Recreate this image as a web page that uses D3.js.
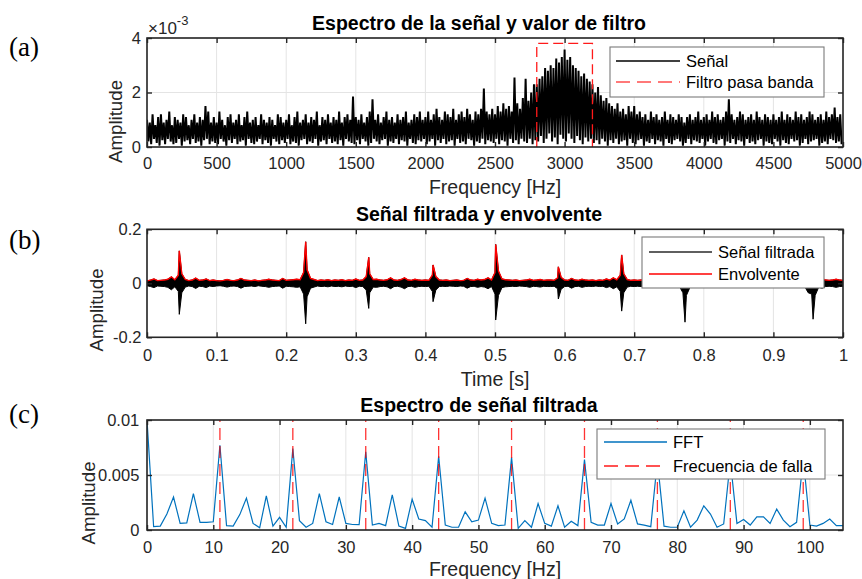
<!DOCTYPE html>
<html><head><meta charset="utf-8">
<script src="https://cdn.jsdelivr.net/npm/d3@7"></script>
<style>body{margin:0;background:#fff}svg{display:block}</style>
</head><body><svg id="chart" width="862" height="579"></svg>
<script>
// ---------- DATA ----------
// (a) spectrum, amplitude in units of 1e-3, one peak/trough pair per 20 Hz bin
const specBinHz = 20;
const specUpper = [
1.0,0.9,1.2,0.8,1.1,1.2,0.9,1.0,1.3,0.8,1.1,1.0,0.9,1.2,1.1,0.8,1.0,1.2,0.9,1.1,1.0,1.5,1.3,0.9,1.1,
0.9,1.3,1.0,0.8,1.1,1.2,0.9,1.0,1.2,0.8,1.1,1.3,0.9,1.0,1.1,0.8,1.2,1.0,0.9,1.1,1.0,0.8,1.2,1.1,0.9,
1.0,1.2,0.8,1.1,1.3,0.9,1.0,1.2,0.9,1.1,1.0,1.3,0.8,1.1,1.0,1.2,0.9,1.1,1.0,1.3,0.9,1.1,1.2,1.0,1.85,
1.1,1.0,1.2,0.9,1.1,1.3,1.75,1.0,1.2,0.9,1.1,1.3,1.0,1.1,0.9,1.2,1.0,1.1,1.3,0.9,1.0,1.2,1.1,1.3,1.0,
1.1,1.3,1.0,1.2,1.4,1.1,1.0,1.3,1.2,1.1,1.4,1.0,1.2,1.3,1.1,1.4,1.2,1.0,1.3,1.2,1.4,2.15,1.3,1.2,1.4,
1.2,1.5,1.3,1.6,1.4,1.5,1.3,2.55,1.6,1.4,1.8,2.5,1.7,2.0,2.3,
2.3,2.5,2.6,2.9,2.8,3.0,2.9,3.25,3.1,3.3,3.58,3.2,3.3,3.0,2.9,2.8,2.6,2.7,2.5,2.4,
2.3,2.0,2.2,1.9,1.7,1.8,1.6,1.5,1.4,1.6,1.3,1.4,1.2,1.5,1.3,
1.5,1.2,1.3,1.1,1.2,1.0,1.3,1.1,1.2,1.0,1.1,1.3,1.0,1.2,1.1,1.0,1.2,1.1,0.9,1.1,1.2,1.0,1.1,1.3,1.0,
1.1,1.2,1.0,1.3,1.1,1.2,1.0,1.1,1.3,1.75,1.2,1.0,1.1,1.3,1.2,1.0,1.1,1.2,1.0,1.3,1.1,1.0,1.2,1.1,1.0,
1.2,1.0,1.1,1.3,1.0,1.2,1.1,1.0,1.3,1.1,1.2,1.0,1.1,1.3,1.2,1.0,1.1,1.2,1.0,1.3,1.1,1.2,1.45,1.1,1.2];
const specLower = [
0.2,0.1,0.3,0.15,0.05,0.25,0.1,0.3,0.2,0.1,0.15,0.3,0.05,0.2,0.25,0.1,0.3,0.15,0.2,0.05,0.25,0.3,0.1,0.2,0.15,
0.1,0.3,0.2,0.05,0.25,0.15,0.3,0.1,0.2,0.25,0.05,0.3,0.15,0.1,0.2,0.3,0.1,0.25,0.15,0.05,0.3,0.2,0.1,0.25,0.15,
0.3,0.1,0.2,0.15,0.05,0.25,0.3,0.1,0.2,0.15,0.3,0.05,0.2,0.25,0.1,0.3,0.15,0.2,0.1,0.25,0.05,0.3,0.2,0.15,0.1,
0.25,0.1,0.3,0.2,0.05,0.15,0.3,0.2,0.1,0.25,0.3,0.05,0.2,0.15,0.3,0.1,0.25,0.2,0.05,0.3,0.15,0.1,0.25,0.2,0.3,
0.1,0.2,0.3,0.05,0.25,0.15,0.3,0.1,0.2,0.25,0.05,0.3,0.15,0.2,0.1,0.3,0.25,0.05,0.2,0.15,0.3,0.1,0.25,0.2,0.15,
0.3,0.1,0.25,0.2,0.05,0.3,0.15,0.25,0.1,0.3,0.2,0.15,0.3,0.1,0.25,0.2,0.4,0.15,0.3,0.5,0.2,0.35,0.1,0.45,0.3,
0.2,0.5,0.3,0.15,0.4,0.25,0.1,0.35,0.2,0.3,0.15,0.25,0.1,0.3,0.2,0.05,0.25,0.15,0.3,0.1,0.2,0.25,0.05,0.3,0.15,
0.1,0.25,0.3,0.05,0.2,0.15,0.3,0.1,0.25,0.2,0.05,0.3,0.15,0.1,0.25,0.3,0.2,0.05,0.15,0.3,0.1,0.25,0.2,0.15,0.3,
0.05,0.2,0.3,0.15,0.1,0.25,0.3,0.05,0.2,0.15,0.3,0.1,0.25,0.2,0.05,0.3,0.15,0.2,0.1,0.25,0.3,0.05,0.2,0.15,0.1,
0.3,0.2,0.05,0.25,0.15,0.1,0.3,0.2,0.25,0.05,0.15,0.3,0.1,0.2,0.25,0.3,0.05,0.15,0.2,0.1,0.3,0.25,0.15,0.2,0.1];
const filterHz = [2800, 2800, 3200, 3200];
const filterAmp = [0, 3.8, 3.8, 0];
const specXTicks = [0,500,1000,1500,2000,2500,3000,3500,4000,4500,5000];
const specYTicks = [0,2,4];

// (b) filtered signal: envelope level every 5 ms plus impacts
const envStep = 0.005;
const envBase = [
0.009,0.012,0.016,0.01,0.011,0.012,0.015,0.024,0.013,0.03,0.035,0.014,0.01,0.012,0.019,0.011,0.012,0.016,0.01,0.012,
0.01,0.009,0.011,0.014,0.011,0.01,0.012,0.018,0.012,0.011,0.01,0.012,0.009,0.011,0.012,0.015,0.012,0.011,0.01,0.018,
0.011,0.012,0.013,0.015,0.013,0.04,0.05,0.018,0.014,0.01,0.012,0.011,0.013,0.01,0.012,0.011,0.013,0.01,0.012,0.011,
0.016,0.011,0.012,0.025,0.035,0.014,0.015,0.012,0.011,0.013,0.02,0.012,0.011,0.014,0.02,0.012,0.011,0.015,0.012,0.011,
0.012,0.011,0.03,0.025,0.012,0.011,0.012,0.01,0.011,0.012,0.01,0.011,0.018,0.012,0.011,0.015,0.012,0.014,0.02,0.012,
0.04,0.045,0.016,0.013,0.012,0.011,0.012,0.01,0.011,0.012,0.015,0.011,0.012,0.014,0.011,0.012,0.012,0.011,0.02,0.022,
0.012,0.011,0.018,0.012,0.011,0.015,0.012,0.011,0.012,0.01,0.012,0.011,0.016,0.012,0.02,0.013,0.03,0.035,0.014,0.011,
0.012,0.011,0.012,0.01,0.015,0.012,0.011,0.012,0.011,0.013,0.011,0.012,0.01,0.012,0.035,0.045,0.016,0.011,0.01,0.012,
0.011,0.012,0.01,0.013,0.011,0.012,0.011,0.015,0.012,0.011,0.012,0.01,0.012,0.011,0.013,0.011,0.012,0.01,0.011,0.012,
0.011,0.012,0.01,0.013,0.011,0.012,0.014,0.012,0.011,0.012,0.035,0.04,0.045,0.015,0.018,0.012,0.011,0.012,0.015,0.012,0.011];
const impT = [0.0464, 0.228, 0.3186, 0.411, 0.501, 0.591, 0.682, 0.773, 0.957];
const impPos = [0.12, 0.154, 0.096, 0.068, 0.144, 0.061, 0.105, 0.14, 0.13];
const impNeg = [-0.115, -0.15, -0.093, -0.068, -0.136, -0.058, -0.103, -0.144, -0.133];
const sigXTicks = [0,0.1,0.2,0.3,0.4,0.5,0.6,0.7,0.8,0.9,1];
const sigYTicks = [-0.2,0,0.2];

// (c) envelope spectrum, 1 Hz bins from 0 to 105 Hz
const fftAmp = [
0.0100,0.0003,0.00035,0.00145,0.003,0.0006,0.00065,0.0033,0.0007,0.0007,0.00075,
0.0077,0.0004,0.00035,0.0014,0.0029,0.0006,0.0002,0.0031,0.00035,0.00115,
0.00025,0.0074,0.00085,0.00025,0.0006,0.0033,0.00075,0.0005,0.003,0.0006,
0.0005,0.00048,0.0071,0.00045,0.0006,0.0004,0.0032,0.00035,0.00015,0.0028,
0.001,0.00085,0.00025,0.0067,0.00045,0.00025,0.00025,0.00165,0.00075,0.0009,
0.0029,0.0006,0.0004,0.00045,0.0066,0.00015,0.00085,0.00025,0.0024,0.0006,
0.00035,0.0022,0.00025,0.0008,0.0004,0.0064,0.0007,0.00045,0.00045,0.0024,
0.00055,0.001,0.0027,0.00055,0.00045,0.0003,0.0063,0.00035,0.00025,0.00025,
0.00175,0.00025,0.0009,0.0022,0.00145,0.00025,0.00055,0.0063,0.0006,0.00095,
0.00045,0.0012,0.0012,0.0006,0.0019,0.0009,0.0003,0.0007,0.0065,0.00045,
0.00035,0.0006,0.001,0.0004,0.0004];
const faultHz = [11,22,33,44,55,66,77,88,99];
const fftXTicks = [0,10,20,30,40,50,60,70,80,90,100];
const fftYTicks = [0,0.005,0.01];

// ---------- DRAWING ----------
const svg = d3.select('#chart');
const TXT = '#262626';
const FF = '"Liberation Sans", Arial, Helvetica, sans-serif';

function makePanel(p) {
  const x = d3.scaleLinear().domain(p.xDomain).range([p.left, p.right]);
  const y = d3.scaleLinear().domain(p.yDomain).range([p.bottom, p.top]);
  const g = svg.append('g');
  const cid = 'clip-' + p.name;
  svg.append('defs').append('clipPath').attr('id', cid).append('rect')
    .attr('x', p.left).attr('y', p.top).attr('width', p.right - p.left).attr('height', p.bottom - p.top);
  const grid = g.append('g');
  grid.selectAll('line.gx').data(p.xTicks).join('line').attr('class','gx')
    .attr('x1', d => x(d)).attr('x2', d => x(d)).attr('y1', p.top).attr('y2', p.bottom)
    .attr('stroke', '#e4e4e4').attr('stroke-width', 1);
  grid.selectAll('line.gy').data(p.yTicks).join('line').attr('class','gy')
    .attr('y1', d => y(d)).attr('y2', d => y(d)).attr('x1', p.left).attr('x2', p.right)
    .attr('stroke', '#e4e4e4').attr('stroke-width', 1);
  const plot = g.append('g').attr('clip-path', `url(#${cid})`);
  const ax = g.append('g');
  ax.append('g').attr('transform', `translate(0,${p.bottom})`)
    .call(d3.axisBottom(x).tickValues(p.xTicks).tickSize(-5).tickPadding(p.xPad).tickFormat(p.xFmt));
  ax.append('g').attr('transform', `translate(0,${p.top})`)
    .call(d3.axisTop(x).tickValues(p.xTicks).tickSize(-5).tickFormat(''));
  ax.append('g').attr('transform', `translate(${p.left},0)`)
    .call(d3.axisLeft(y).tickValues(p.yTicks).tickSize(-5).tickPadding(p.yPad).tickFormat(p.yFmt));
  ax.append('g').attr('transform', `translate(${p.right},0)`)
    .call(d3.axisRight(y).tickValues(p.yTicks).tickSize(-5).tickFormat(''));
  ax.selectAll('.domain').remove();
  ax.selectAll('.tick line').attr('stroke', TXT).attr('stroke-width', 1.4);
  ax.selectAll('.tick text').attr('fill', TXT).style('font-size', '16.5px').style('font-family', FF);
  ax.append('rect').attr('x', p.left).attr('y', p.top).attr('width', p.right - p.left).attr('height', p.bottom - p.top)
    .attr('fill', 'none').attr('stroke', TXT).attr('stroke-width', 1.6);
  g.append('text').attr('x', 479).attr('y', p.titleY).attr('text-anchor', 'middle')
    .style('font-family', FF).style('font-size', '19.5px').style('font-weight', 'bold').attr('fill', '#000').text(p.title);
  g.append('text').attr('x', (p.left + p.right) / 2).attr('y', p.xlabelY).attr('text-anchor', 'middle')
    .style('font-family', FF).style('font-size', '19.5px').attr('fill', TXT).text(p.xlabel);
  g.append('text').attr('transform', `translate(${p.ylabelX},${p.ylabelY}) rotate(-90)`).attr('text-anchor', 'middle')
    .style('font-family', FF).style('font-size', '18.7px').attr('fill', TXT).text('Amplitude');
  svg.append('text').attr('x', 9).attr('y', p.letterY).style('font-family', '"Liberation Serif","Times New Roman",serif')
    .style('font-size', '27px').attr('fill', '#000').text(p.letter);
  const leg = g.append('g');
  return {x, y, plot, leg};
}

function drawLegend(leg, box, items) {
  leg.append('rect').attr('x', box.x).attr('y', box.y).attr('width', box.w).attr('height', box.h)
    .attr('fill', '#fff').attr('stroke', '#7a7a7a').attr('stroke-width', 1.1);
  items.forEach(it => {
    leg.append('line').attr('x1', box.lx0).attr('x2', box.lx1).attr('y1', it.y).attr('y2', it.y)
      .attr('stroke', it.color).attr('stroke-width', it.w || 1.3).attr('stroke-dasharray', it.dash || null);
    leg.append('text').attr('x', box.tx).attr('y', it.y + 6).style('font-family', FF).style('font-size', '16.5px')
      .attr('fill', '#000').text(it.label);
  });
}

const fmtPlain = d => String(d);

// ----- Panel (a) -----
const A = makePanel({name:'a', left:147, right:843, top:38, bottom:147,
  xDomain:[0,5000], yDomain:[0,4], xTicks:specXTicks, yTicks:specYTicks,
  xFmt:fmtPlain, yFmt:fmtPlain, xPad:10.3, yPad:6,
  title:'Espectro de la señal y valor de filtro', titleY:29.5,
  xlabel:'Frequency [Hz]', xlabelY:194, ylabelX:122, ylabelY:121.5, letter:'(a)', letterY:56});
const specPts = [];
specUpper.forEach((u, i) => {
  specPts.push([i * specBinHz, u]);
  specPts.push([i * specBinHz + specBinHz / 2, specLower[i]]);
});
A.plot.append('path').datum(specPts)
  .attr('d', d3.line().x(d => A.x(d[0])).y(d => A.y(d[1])))
  .attr('fill', 'none').attr('stroke', '#000').attr('stroke-width', 2).attr('stroke-linejoin', 'miter').attr('stroke-miterlimit', 2);
A.plot.append('path').datum(filterHz.map((f, i) => [f, filterAmp[i]]))
  .attr('d', d3.line().x(d => A.x(d[0])).y(d => A.y(d[1])))
  .attr('fill', 'none').attr('stroke', '#ff1a1a').attr('stroke-width', 1.3).attr('stroke-dasharray', '10,5');
const ex = svg.append('text').attr('x', 148).attr('y', 33.5).style('font-family', FF).attr('fill', TXT);
ex.append('tspan').style('font-size', '17px').text('×10');
ex.append('tspan').attr('dy', -8.5).style('font-size', '13px').text('-3');
drawLegend(A.leg, {x:610, y:47, w:214, h:50, lx0:616, lx1:680, tx:686}, [
  {label:'Señal', color:'#000', y:61},
  {label:'Filtro pasa banda', color:'#ff4d4d', y:82, dash:'14,7'}]);

// ----- Panel (b) -----
const B = makePanel({name:'b', left:147, right:843, top:229.3, bottom:337.3,
  xDomain:[0,1], yDomain:[-0.2,0.2], xTicks:sigXTicks, yTicks:sigYTicks,
  xFmt:fmtPlain, yFmt:fmtPlain, xPad:11.5, yPad:5.5,
  title:'Señal filtrada y envolvente', titleY:221,
  xlabel:'Time [s]', xlabelY:386, ylabelX:103, ylabelY:310, letter:'(b)', letterY:249});
const knots = envBase.map((b, i) => ({t: i * envStep, p: b, n: -b}));
impT.forEach((t, k) => knots.push({t, p: impPos[k], n: impNeg[k]}));
knots.sort((a, b) => a.t - b.t);
B.plot.append('path').datum(knots)
  .attr('d', d3.area().x(d => B.x(d.t)).y0(d => B.y(d.n)).y1(d => B.y(d.p)))
  .attr('fill', '#000').attr('stroke', '#000').attr('stroke-width', 1);
B.plot.append('path').datum(knots)
  .attr('d', d3.line().x(d => B.x(d.t)).y(d => B.y(d.p)))
  .attr('fill', 'none').attr('stroke', '#ff0000').attr('stroke-width', 1.4);
drawLegend(B.leg, {x:642, y:237, w:182, h:51, lx0:649, lx1:712, tx:718}, [
  {label:'Señal filtrada', color:'#2a2a2a', y:252},
  {label:'Envolvente', color:'#ff0000', y:274}]);

// ----- Panel (c) -----
const C = makePanel({name:'c', left:147, right:843, top:420, bottom:530,
  xDomain:[0,105], yDomain:[0,0.01], xTicks:fftXTicks, yTicks:fftYTicks,
  xFmt:fmtPlain, yFmt:fmtPlain, xPad:11.3, yPad:7.7,
  title:'Espectro de señal filtrada', titleY:412,
  xlabel:'Frequency [Hz]', xlabelY:576, ylabelX:95, ylabelY:503, letter:'(c)', letterY:423});
C.plot.append('path').datum(fftAmp.map((v, i) => [i, v]))
  .attr('d', d3.line().x(d => C.x(d[0])).y(d => C.y(d[1])))
  .attr('fill', 'none').attr('stroke', '#0072BD').attr('stroke-width', 1.2);
C.plot.selectAll('line.fault').data(faultHz).join('line').attr('class', 'fault')
  .attr('x1', d => C.x(d)).attr('x2', d => C.x(d)).attr('y1', C.y(0)).attr('y2', C.y(0.01))
  .attr('stroke', '#ff0000').attr('stroke-opacity', 0.8).attr('stroke-width', 1.3).attr('stroke-dasharray', '12,6');
drawLegend(C.leg, {x:597, y:429, w:228, h:50, lx0:604, lx1:667, tx:673}, [
  {label:'FFT', color:'#0072BD', y:442},
  {label:'Frecuencia de falla', color:'#ff1a1a', y:466, dash:'14,7'}]);
</script></body></html>
